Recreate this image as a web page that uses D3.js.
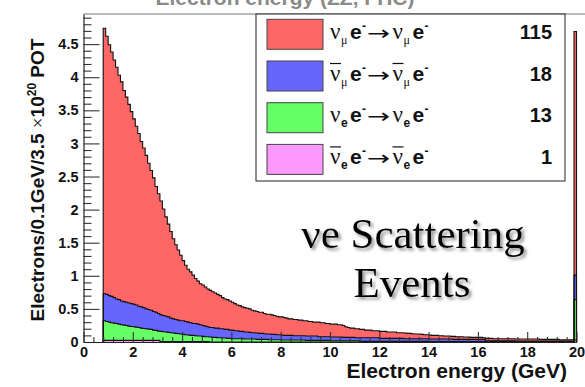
<!DOCTYPE html>
<html><head><meta charset="utf-8">
<script src="https://cdn.jsdelivr.net/npm/d3@7"></script>
<style>body{margin:0;background:#fff}svg{display:block}</style>
</head><body>
<svg id="c" width="585" height="387"></svg>
<script>
// ---- data: 0.1 GeV bins from 0.8 to 20 GeV (last bin holds overflow) ----
const binLow = d3.range(192).map(i => Math.round((0.8 + 0.1 * i) * 10) / 10);
const binWidth = 0.1;

const numuVals = [
4.01, 3.90,
3.79, 3.69, 3.59, 3.50, 3.39, 3.31, 3.19, 3.10, 3.00, 2.90,
2.80, 2.70, 2.61, 2.50, 2.41, 2.32, 2.21, 2.11, 2.02, 1.90,
1.81, 1.72, 1.61, 1.50, 1.40, 1.31, 1.21, 1.13, 1.06, 0.99,
0.91, 0.85, 0.80, 0.77, 0.73, 0.68, 0.65, 0.62, 0.61, 0.59,
0.57, 0.56, 0.54, 0.53, 0.51, 0.50, 0.47, 0.46, 0.45, 0.44,
0.42, 0.41, 0.39, 0.39, 0.37, 0.37, 0.36, 0.355, 0.34, 0.33,
0.325, 0.32, 0.32, 0.305, 0.30, 0.30, 0.295, 0.285, 0.28, 0.27,
0.275, 0.27, 0.26, 0.25, 0.25, 0.245, 0.245, 0.235, 0.235, 0.225,
0.23, 0.22, 0.22, 0.21, 0.21, 0.22, 0.21, 0.21, 0.20, 0.20,
0.195, 0.195, 0.195, 0.185, 0.185, 0.18, 0.16, 0.15, 0.14, 0.14,
0.135, 0.135, 0.125, 0.125, 0.115, 0.115, 0.115, 0.105, 0.105, 0.105,
0.105, 0.105, 0.105, 0.095, 0.095, 0.095, 0.095, 0.085, 0.085, 0.085,
0.085, 0.08, 0.08, 0.075, 0.07, 0.07, 0.07, 0.065, 0.06, 0.06,
0.06, 0.055, 0.055, 0.055, 0.05, 0.05, 0.045, 0.045, 0.045, 0.04,
0.045, 0.04, 0.04, 0.04, 0.035, 0.035, 0.035, 0.03, 0.03, 0.03,
0.03, 0.03, 0.025, 0.035, 0.035, 0.035, 0.03, 0.03, 0.03, 0.03,
0.03, 0.03, 0.03, 0.03, 0.03, 0.03, 0.03, 0.03, 0.03, 0.03,
0.03, 0.03, 0.03, 0.03, 0.03, 0.025, 0.025, 0.025, 0.025, 0.025,
0.025, 0.025, 0.025, 0.02, 0.02, 0.02, 0.02, 0.02, 0.02, 3.68
];

const numubarVals = [
0.41, 0.41,
0.40, 0.40, 0.385, 0.37, 0.37, 0.36, 0.355, 0.35, 0.35, 0.345,
0.34, 0.335, 0.32, 0.32, 0.315, 0.30, 0.295, 0.29, 0.28, 0.275,
0.265, 0.25, 0.245, 0.24, 0.235, 0.22, 0.215, 0.21, 0.205, 0.20,
0.205, 0.20, 0.195, 0.19, 0.18, 0.185, 0.18, 0.17, 0.165, 0.16,
0.15, 0.145, 0.15, 0.14, 0.145, 0.135, 0.14, 0.13, 0.135, 0.125,
0.13, 0.12, 0.12, 0.11, 0.11, 0.105, 0.105, 0.10, 0.095, 0.095,
0.095, 0.09, 0.09, 0.085, 0.08, 0.085, 0.08, 0.08, 0.075, 0.075,
0.075, 0.07, 0.07, 0.07, 0.07, 0.065, 0.065, 0.065, 0.065, 0.065,
0.065, 0.065, 0.065, 0.065, 0.065, 0.055, 0.055, 0.055, 0.055, 0.055,
0.055, 0.055, 0.055, 0.055, 0.055, 0.05, 0.05, 0.05, 0.05, 0.05,
0.045, 0.045, 0.055, 0.055, 0.055, 0.055, 0.055, 0.055, 0.055, 0.055,
0.045, 0.045, 0.045, 0.045, 0.045, 0.045, 0.045, 0.045, 0.045, 0.045,
0.04, 0.04, 0.04, 0.04, 0.04, 0.04, 0.04, 0.04, 0.04, 0.04,
0.037, 0.037, 0.037, 0.037, 0.037, 0.037, 0.037, 0.037, 0.037, 0.037,
0.032, 0.032, 0.032, 0.032, 0.032, 0.032, 0.032, 0.032, 0.032, 0.032,
0.032, 0.032, 0.032, 0.012, 0.012, 0.012, 0.012, 0.012, 0.012, 0.012,
0.012, 0.012, 0.012, 0.012, 0.012, 0.007, 0.007, 0.007, 0.007, 0.007,
0.007, 0.007, 0.007, 0.007, 0.007, 0.007, 0.007, 0.007, 0.007, 0.007,
0.007, 0.007, 0.007, 0.007, 0.007, 0.007, 0.007, 0.007, 0.007, 0.37
];

const nueVals = [
0.295, 0.285,
0.275, 0.265, 0.26, 0.255, 0.245, 0.235, 0.23, 0.225, 0.215, 0.21,
0.205, 0.20, 0.195, 0.185, 0.18, 0.175, 0.17, 0.165, 0.155, 0.15,
0.14, 0.155, 0.15, 0.145, 0.14, 0.135, 0.13, 0.125, 0.12, 0.115,
0.11, 0.105, 0.10, 0.095, 0.095, 0.09, 0.085, 0.085, 0.08, 0.075,
0.075, 0.075, 0.07, 0.07, 0.065, 0.065, 0.06, 0.06, 0.055, 0.055,
0.05, 0.05, 0.05, 0.05, 0.05, 0.045, 0.045, 0.045, 0.045, 0.045,
0.04, 0.04, 0.04, 0.04, 0.04, 0.035, 0.035, 0.035, 0.035, 0.035,
0.03, 0.03, 0.03, 0.03, 0.03, 0.03, 0.03, 0.03, 0.03, 0.03,
0.025, 0.025, 0.025, 0.025, 0.025, 0.025, 0.025, 0.025, 0.025, 0.025,
0.02, 0.02, 0.02, 0.02, 0.02, 0.02, 0.02, 0.02, 0.02, 0.02,
0.02, 0.02, 0.01, 0.01, 0.01, 0.01, 0.01, 0.01, 0.01, 0.01,
0.01, 0.01, 0.01, 0.01, 0.01, 0.01, 0.01, 0.01, 0.01, 0.01,
0.01, 0.01, 0.01, 0.01, 0.01, 0.01, 0.01, 0.01, 0.01, 0.01,
0.008, 0.008, 0.008, 0.008, 0.008, 0.008, 0.008, 0.008, 0.008, 0.008,
0.008, 0.008, 0.008, 0.008, 0.008, 0.008, 0.008, 0.008, 0.008, 0.008,
0.008, 0.008, 0.008, 0.008, 0.008, 0.008, 0.008, 0.008, 0.008, 0.008,
0.008, 0.008, 0.008, 0.008, 0.008, 0.008, 0.008, 0.008, 0.008, 0.008,
0.008, 0.008, 0.008, 0.008, 0.008, 0.008, 0.008, 0.008, 0.008, 0.008,
0.008, 0.008, 0.008, 0.008, 0.008, 0.008, 0.008, 0.008, 0.008, 0.61
];

const nuebarVals = [
0.025, 0.025,
0.025, 0.025, 0.025, 0.025, 0.025, 0.025, 0.025, 0.025, 0.025, 0.025,
0.025, 0.025, 0.025, 0.025, 0.025, 0.025, 0.025, 0.025, 0.025, 0.025,
0.025, 0.005, 0.005, 0.005, 0.005, 0.005, 0.005, 0.005, 0.005, 0.005,
0.005, 0.005, 0.005, 0.005, 0.005, 0.005, 0.005, 0.005, 0.005, 0.005,
0.005, 0, 0, 0, 0, 0, 0, 0, 0, 0,
0, 0, 0, 0, 0, 0, 0, 0, 0, 0,
0, 0, 0, 0, 0, 0, 0, 0, 0, 0,
0, 0, 0, 0, 0, 0, 0, 0, 0, 0,
0, 0, 0, 0, 0, 0, 0, 0, 0, 0,
0, 0, 0, 0, 0, 0, 0, 0, 0, 0,
0, 0, 0, 0, 0, 0, 0, 0, 0, 0,
0, 0, 0, 0, 0, 0, 0, 0, 0, 0,
0, 0, 0, 0, 0, 0, 0, 0, 0, 0,
0, 0, 0, 0, 0, 0, 0, 0, 0, 0,
0, 0, 0, 0, 0, 0, 0, 0, 0, 0,
0, 0, 0, 0, 0, 0, 0, 0, 0, 0,
0, 0, 0, 0, 0, 0, 0, 0, 0, 0,
0, 0, 0, 0, 0, 0, 0, 0, 0, 0,
0, 0, 0, 0, 0, 0, 0, 0, 0, 0.03
];

const seriesKeys = ["nuebar", "nue", "numubar", "numu"];          // stack order, bottom to top
const seriesColors = ["#ff99ff", "#66ff66", "#6666ff", "#ff6666"];
const legendOrder = ["numu", "numubar", "nue", "nuebar"];
const legendCounts = ["115", "18", "13", "1"];
const xTickValues = [0, 2, 4, 6, 8, 10, 12, 14, 16, 18, 20];
const xTickLabels = ["0", "2", "4", "6", "8", "10", "12", "14", "16", "18", "20"];
const yTickValues = [0, 0.5, 1, 1.5, 2, 2.5, 3, 3.5, 4, 4.5];
const yTickLabels = ["0", "0.5", "1", "1.5", "2", "2.5", "3", "3.5", "4", "4.5"];

// ---- drawing ----
const svg = d3.select("#c");
const x = d3.scaleLinear().domain([0, 20]).range([83.5, 576.5]);
const y = d3.scaleLinear().domain([0, 4.955]).range([342, 14]);
const color = d3.scaleOrdinal().domain(seriesKeys).range(seriesColors);
const SANS = "'Liberation Sans', Arial, Helvetica, sans-serif";
const SERIF = "'Liberation Serif', 'Times New Roman', serif";

const defs = svg.append("defs");
const f = defs.append("filter").attr("id", "shadow").attr("x", "-10%").attr("y", "-20%").attr("width", "130%").attr("height", "150%");
f.append("feDropShadow").attr("dx", 2.5).attr("dy", 2.5).attr("stdDeviation", 1.6).attr("flood-color", "#777").attr("flood-opacity", 0.8);

// title (clipped at top, as in the original)
svg.append("text").attr("x", 285).attr("y", 5).attr("text-anchor", "middle")
  .attr("font-family", SANS).attr("font-weight", "bold").attr("font-size", 21)
  .attr("fill", "#8a8a8a").text("Electron energy (ZZ, FHC)");

const table = binLow.map((e, i) => ({
  e, nuebar: nuebarVals[i], nue: nueVals[i], numubar: numubarVals[i], numu: numuVals[i]
}));
const stacked = d3.stack().keys(seriesKeys)(table);

const area = d3.area().x(d => x(d[0])).y0(y(0)).y1(d => y(d[1])).curve(d3.curveStepAfter);
const line = d3.line().x(d => x(d[0])).y(d => y(d[1])).curve(d3.curveStepAfter);
const topFirst = stacked.slice().reverse();
const histG = svg.append("g");
const endE = binLow[binLow.length - 1] + binWidth;
topFirst.forEach(layer => {
  const pts = layer.map(d => [d.data.e, d[1]]);
  pts.push([endE, layer[layer.length - 1][1]]);
  histG.append("path").attr("d", area(pts)).attr("fill", color(layer.key));
});
topFirst.forEach(layer => {
  const last = layer[layer.length - 1][1];
  const pts = [[binLow[0], 0]].concat(layer.map(d => [d.data.e, d[1]]), [[endE, last], [endE, 0]]);
  histG.append("path").attr("d", line(pts)).attr("fill", "none")
    .attr("stroke", "#111").attr("stroke-width", 1.1);
});

// frame top line
svg.append("line").attr("x1", 83.5).attr("x2", 585).attr("y1", 14).attr("y2", 14)
  .attr("stroke", "#777").attr("stroke-width", 1.2);

// axes
function styleAxis(g) {
  g.selectAll("path.domain").attr("stroke", "#222").attr("stroke-width", 1.2);
  g.selectAll(".tick line").attr("stroke", "#333").attr("stroke-width", 1.1);
  g.selectAll("text").attr("font-family", SANS).attr("font-weight", "bold")
    .attr("font-size", 14.5).attr("fill", "#111");
}
const yMinor = d3.range(0, 50).map(i => i / 10).filter(v => v <= 4.95 && Math.abs(v * 2 - Math.round(v * 2)) > 1e-6);
svg.append("g").attr("transform", "translate(83.5,0)")
  .call(d3.axisLeft(y).tickValues(yMinor).tickFormat("").tickSize(-8).tickSizeOuter(0))
  .call(g => g.select(".domain").remove()).call(styleAxis);
svg.append("g").attr("transform", "translate(83.5,0)")
  .call(d3.axisLeft(y).tickValues(yTickValues).tickFormat((d, i) => yTickLabels[i]).tickSize(-16).tickSizeOuter(0).tickPadding(5))
  .call(styleAxis);

const xMinor = d3.range(0, 51).map(i => i * 0.4).filter(v => v <= 20 && Math.abs(v / 2 - Math.round(v / 2)) > 1e-6);
svg.append("g").attr("transform", "translate(0,342)")
  .call(d3.axisBottom(x).tickValues(xMinor).tickFormat("").tickSize(-5).tickSizeOuter(0))
  .call(g => g.select(".domain").remove()).call(styleAxis);
svg.append("g").attr("transform", "translate(0,342)")
  .call(d3.axisBottom(x).tickValues(xTickValues).tickFormat((d, i) => xTickLabels[i]).tickSize(-10).tickSizeOuter(0).tickPadding(5))
  .call(styleAxis);

// axis titles
svg.append("text").attr("x", 567).attr("y", 378).attr("text-anchor", "end")
  .attr("font-family", SANS).attr("font-weight", "bold").attr("font-size", 21).attr("fill", "#111")
  .text("Electron energy (GeV)");

const yt = svg.append("text").attr("transform", "translate(43.5,180) rotate(-90)")
  .attr("text-anchor", "middle").attr("font-family", SANS).attr("font-weight", "bold")
  .attr("font-size", 19).attr("fill", "#111");
yt.append("tspan").text("Electrons/0.1GeV/3.5 ");
yt.append("tspan").attr("font-weight", "normal").attr("font-family", SERIF).text("×");
yt.append("tspan").text("10");
yt.append("tspan").attr("font-size", 12).attr("dy", -8).text("20");
yt.append("tspan").attr("dy", 8).text(" POT");

// legend
const lg = svg.append("g");
lg.append("rect").attr("x", 256).attr("y", 14).attr("width", 309).attr("height", 167)
  .attr("fill", "#fff").attr("stroke", "#222").attr("stroke-width", 1);
const rowSub = { numu: "μ", numubar: "μ", nue: "e", nuebar: "e" };
const rowBar = { numu: false, numubar: true, nue: false, nuebar: true };
legendOrder.forEach((key, i) => {
  const cy = 34.3 + 41.7 * i;
  const yb = cy + 4.5;
  lg.append("rect").attr("x", 267).attr("y", cy - 15).attr("width", 56).attr("height", 30)
    .attr("fill", color(key)).attr("stroke", "#444").attr("stroke-width", 1);
  const piece = (px, py, txt, fam, size, weight) =>
    lg.append("text").attr("x", px).attr("y", py).attr("font-family", fam)
      .attr("font-size", size).attr("font-weight", weight).attr("fill", "#111").text(txt);
  const subIsE = rowSub[key] === "e";
  [330, 392.5].forEach(x0 => {
    piece(x0, yb, "ν", SERIF, 23, "normal");
    if (subIsE) piece(x0 + 11, yb + 5, "e", SANS, 12, "bold");
    else piece(x0 + 11, yb + 5, "μ", SERIF, 12, "normal");
    piece(x0 + 20, yb, "e", SANS, 21, "bold");
    piece(x0 + 32, yb - 9, "-", SANS, 12, "bold");
    if (rowBar[key]) lg.append("line").attr("x1", x0).attr("x2", x0 + 11)
      .attr("y1", yb - 17).attr("y2", yb - 17).attr("stroke", "#111").attr("stroke-width", 1.2);
  });
  lg.append("text").attr("x", 367).attr("y", yb + 1).attr("font-family", "'DejaVu Sans', sans-serif")
    .attr("font-size", 20).attr("textLength", 23).attr("lengthAdjust", "spacingAndGlyphs")
    .attr("fill", "#111").text("→");
  lg.append("text").attr("x", 552).attr("y", yb).attr("text-anchor", "end")
    .attr("font-family", SANS).attr("font-weight", "bold").attr("font-size", 20).attr("fill", "#111")
    .text(legendCounts[i]);
});

// annotation
const ann = svg.append("g").attr("filter", "url(#shadow)").attr("font-family", SERIF)
  .attr("font-size", 43).attr("fill", "#000").attr("text-anchor", "middle");
ann.append("text").attr("x", 413).attr("y", 248).text("νe Scattering");
ann.append("text").attr("x", 412).attr("y", 297).text("Events");
</script>
</body></html>
